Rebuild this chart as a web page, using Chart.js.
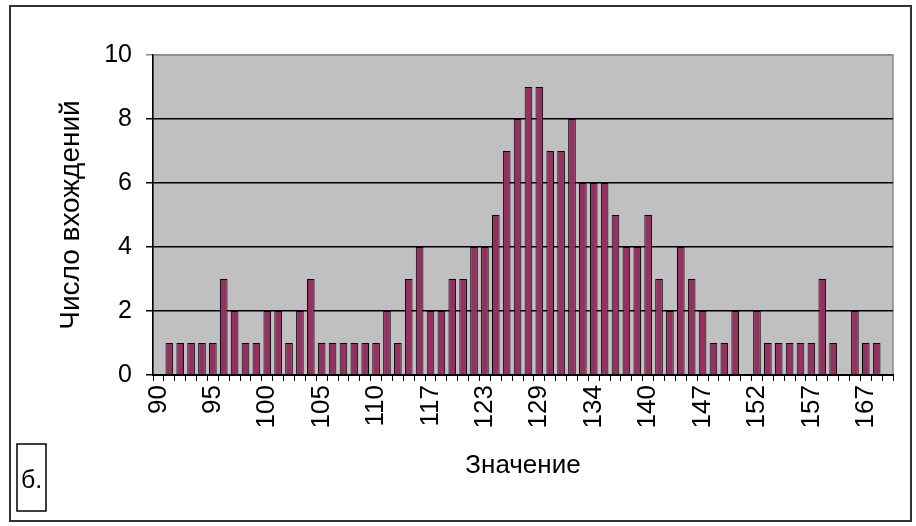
<!DOCTYPE html>
<html>
<head>
<meta charset="utf-8">
<script src="https://cdn.jsdelivr.net/npm/chart.js@4/dist/chart.umd.min.js"></script>
<style>
  html, body { margin: 0; padding: 0; background: #fff; }
  canvas { display: block; }
</style>
</head>
<body>
<canvas id="hist" width="916" height="526"></canvas>
<script>
// bins (x categories) and how many values fell in each
var categories = [90, 91, 92, 93, 94, 95, 96, 97, 98, 99, 100, 101, 102, 103, 104, 105, 106, 107, 108, 109, 110,
    112, 113, 115, 116, 117, 118, 120, 121, 122, 123, 124, 125, 127, 128, 129, 130, 131, 132, 133, 134,
    135, 136, 138, 139, 140, 141, 143, 144, 146, 147, 148, 149, 150, 151, 152, 153, 154, 155, 156, 157,
    158, 160, 163, 165, 167, 168, 170];
var counts = [0, 1, 1, 1, 1, 1, 3, 2, 1, 1, 2, 2, 1, 2, 3, 1, 1, 1, 1, 1,
    1, 2, 1, 3, 4, 2, 2, 3, 3, 4, 4, 5, 7, 8, 9, 9, 7, 7, 8, 6,
    6, 6, 5, 4, 4, 5, 3, 2, 4, 3, 2, 1, 1, 2, 0, 2, 1, 1, 1, 1,
    1, 3, 1, 0, 2, 1, 1, 0];
var yTicks = [0, 2, 4, 6, 8, 10];
var labelEvery = 5;

var FONT = "'Liberation Sans', Arial, sans-serif";

// grey plot area + outer frame + the "б." box
var decor = {
    id: 'decor',
    beforeDraw: function (chart) {
        var c = chart.ctx, a = chart.chartArea;
        c.save();
        c.fillStyle = '#c0c0c0';
        c.fillRect(a.left, a.top, a.right - a.left, a.bottom - a.top);
        c.strokeStyle = '#8a8a8a';
        c.lineWidth = 1.5;
        c.strokeRect(a.left, a.top, a.right - a.left, a.bottom - a.top);
        c.restore();
    },
    afterDraw: function (chart) {
        var c = chart.ctx;
        c.save();
        c.strokeStyle = '#333';
        c.lineWidth = 2;
        c.strokeRect(10, 6, 901, 515);
        c.strokeStyle = '#000';
        c.lineWidth = 1.5;
        c.strokeRect(17, 444, 29, 67);
        c.fillStyle = '#000';
        c.font = '25px ' + FONT;
        c.textBaseline = 'alphabetic';
        c.fillText('б.', 21, 488);
        c.restore();
    }
};

var ctx = document.getElementById('hist').getContext('2d');
var chart = new Chart(ctx, {
    type: 'bar',
    data: {
        labels: categories,
        datasets: [{
            data: counts,
            backgroundColor: '#933262',
            borderColor: '#000',
            borderWidth: 1,
            barPercentage: 0.7,
            categoryPercentage: 1
        }]
    },
    options: {
        responsive: false,
        animation: false,
        layout: { padding: { left: 54, top: 55, right: 23, bottom: 42 } },
        plugins: { legend: { display: false }, tooltip: { enabled: false } },
        scales: {
            x: {
                grid: { offset: true, drawOnChartArea: false, drawTicks: true, tickLength: 6, color: '#000', lineWidth: 1 },
                border: { color: '#000', width: 2 },
                ticks: {
                    autoSkip: false,
                    minRotation: 90,
                    maxRotation: 90,
                    padding: 4,
                    color: '#000',
                    font: { family: FONT, size: 26 },
                    callback: function (v, i) { return i % labelEvery === 0 ? String(categories[i]) : ''; }
                },
                title: { display: true, text: 'Значение', color: '#000', font: { family: FONT, size: 26 }, padding: { top: 0, bottom: 3 } },
                afterFit: function (s) { s.height = 109; s.paddingLeft = 0; s.paddingRight = 0; }
            },
            y: {
                min: 0,
                max: 10,
                afterBuildTicks: function (s) { s.ticks = yTicks.map(function (v) { return { value: v }; }); },
                grid: {
                    color: function (c) { return c.tick && c.tick.value === 10 ? '#8a8a8a' : '#000'; },
                    lineWidth: 1.5,
                    tickLength: 7
                },
                border: { color: '#000', width: 1.5 },
                ticks: { padding: 14, color: '#000', font: { family: FONT, size: 25 } },
                title: { display: true, text: 'Число вхождений', color: '#000', font: { family: FONT, size: 28 }, padding: 0 },
                afterFit: function (s) { s.width = 99; s.paddingTop = 0; s.paddingBottom = 0; }
            }
        }
    },
    plugins: [decor]
});
</script>
</body>
</html>
